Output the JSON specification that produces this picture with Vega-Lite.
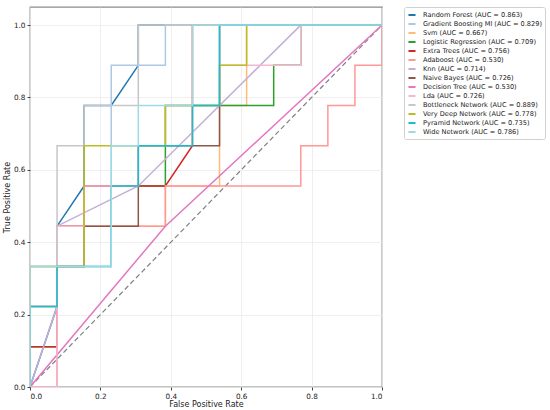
{
  "$schema": "https://vega.github.io/schema/vega-lite/v6.json",
  "width": 352,
  "height": 380,
  "autosize": "none",
  "padding": {"left": 30, "top": 7, "right": 168, "bottom": 23},
  "config": {
    "font": "DejaVu Sans",
    "view": {"stroke": "#8a8a8a", "strokeWidth": 1.3},
    "axis": {
      "domain": false, "grid": true, "gridColor": "#ebebeb", "gridWidth": 0.8,
      "tickColor": "#444", "tickSize": 3, "labelFontSize": 7.3, "labelColor": "#222",
      "titleFontSize": 8, "titleFontWeight": "normal", "titleColor": "#222"
    }
  },
  "data": {"values": [
    {"model": "Random Forest (AUC = 0.863)", "x": 0, "y": 0},
    {"model": "Random Forest (AUC = 0.863)", "x": 0.0769, "y": 0.2222},
    {"model": "Random Forest (AUC = 0.863)", "x": 0.0769, "y": 0.4444},
    {"model": "Random Forest (AUC = 0.863)", "x": 0.1538, "y": 0.5556},
    {"model": "Random Forest (AUC = 0.863)", "x": 0.1538, "y": 0.7778},
    {"model": "Random Forest (AUC = 0.863)", "x": 0.2308, "y": 0.7778},
    {"model": "Random Forest (AUC = 0.863)", "x": 0.3077, "y": 0.8889},
    {"model": "Random Forest (AUC = 0.863)", "x": 0.3077, "y": 1},
    {"model": "Random Forest (AUC = 0.863)", "x": 1, "y": 1},

    {"model": "Gradient Boosting Ml (AUC = 0.829)", "x": 0, "y": 0},
    {"model": "Gradient Boosting Ml (AUC = 0.829)", "x": 0, "y": 0.3333},
    {"model": "Gradient Boosting Ml (AUC = 0.829)", "x": 0.2308, "y": 0.3333},
    {"model": "Gradient Boosting Ml (AUC = 0.829)", "x": 0.2308, "y": 0.8889},
    {"model": "Gradient Boosting Ml (AUC = 0.829)", "x": 0.3846, "y": 0.8889},
    {"model": "Gradient Boosting Ml (AUC = 0.829)", "x": 0.3846, "y": 1},
    {"model": "Gradient Boosting Ml (AUC = 0.829)", "x": 1, "y": 1},

    {"model": "Svm (AUC = 0.667)", "x": 0, "y": 0},
    {"model": "Svm (AUC = 0.667)", "x": 0.0769, "y": 0},
    {"model": "Svm (AUC = 0.667)", "x": 0.0769, "y": 0.4444},
    {"model": "Svm (AUC = 0.667)", "x": 0.3846, "y": 0.4444},
    {"model": "Svm (AUC = 0.667)", "x": 0.3846, "y": 0.5556},
    {"model": "Svm (AUC = 0.667)", "x": 0.5385, "y": 0.5556},
    {"model": "Svm (AUC = 0.667)", "x": 0.5385, "y": 0.7778},
    {"model": "Svm (AUC = 0.667)", "x": 0.6154, "y": 0.7778},
    {"model": "Svm (AUC = 0.667)", "x": 0.6154, "y": 1},
    {"model": "Svm (AUC = 0.667)", "x": 1, "y": 1},

    {"model": "Logistic Regression (AUC = 0.709)", "x": 0, "y": 0},
    {"model": "Logistic Regression (AUC = 0.709)", "x": 0, "y": 0.1111},
    {"model": "Logistic Regression (AUC = 0.709)", "x": 0.0769, "y": 0.1111},
    {"model": "Logistic Regression (AUC = 0.709)", "x": 0.0769, "y": 0.4444},
    {"model": "Logistic Regression (AUC = 0.709)", "x": 0.1538, "y": 0.4444},
    {"model": "Logistic Regression (AUC = 0.709)", "x": 0.1538, "y": 0.5556},
    {"model": "Logistic Regression (AUC = 0.709)", "x": 0.3846, "y": 0.5556},
    {"model": "Logistic Regression (AUC = 0.709)", "x": 0.3846, "y": 0.7778},
    {"model": "Logistic Regression (AUC = 0.709)", "x": 0.6923, "y": 0.7778},
    {"model": "Logistic Regression (AUC = 0.709)", "x": 0.6923, "y": 0.8889},
    {"model": "Logistic Regression (AUC = 0.709)", "x": 0.7692, "y": 0.8889},
    {"model": "Logistic Regression (AUC = 0.709)", "x": 0.7692, "y": 1},
    {"model": "Logistic Regression (AUC = 0.709)", "x": 1, "y": 1},

    {"model": "Extra Trees (AUC = 0.756)", "x": 0, "y": 0},
    {"model": "Extra Trees (AUC = 0.756)", "x": 0, "y": 0.1111},
    {"model": "Extra Trees (AUC = 0.756)", "x": 0.0769, "y": 0.1111},
    {"model": "Extra Trees (AUC = 0.756)", "x": 0.0769, "y": 0.4444},
    {"model": "Extra Trees (AUC = 0.756)", "x": 0.1538, "y": 0.4444},
    {"model": "Extra Trees (AUC = 0.756)", "x": 0.1538, "y": 0.5556},
    {"model": "Extra Trees (AUC = 0.756)", "x": 0.3846, "y": 0.5556},
    {"model": "Extra Trees (AUC = 0.756)", "x": 0.4615, "y": 0.6667},
    {"model": "Extra Trees (AUC = 0.756)", "x": 0.4615, "y": 1},
    {"model": "Extra Trees (AUC = 0.756)", "x": 1, "y": 1},

    {"model": "Adaboost (AUC = 0.530)", "x": 0, "y": 0},
    {"model": "Adaboost (AUC = 0.530)", "x": 0.0769, "y": 0},
    {"model": "Adaboost (AUC = 0.530)", "x": 0.0769, "y": 0.4444},
    {"model": "Adaboost (AUC = 0.530)", "x": 0.3846, "y": 0.4444},
    {"model": "Adaboost (AUC = 0.530)", "x": 0.3846, "y": 0.5556},
    {"model": "Adaboost (AUC = 0.530)", "x": 0.7692, "y": 0.5556},
    {"model": "Adaboost (AUC = 0.530)", "x": 0.7692, "y": 0.6667},
    {"model": "Adaboost (AUC = 0.530)", "x": 0.8462, "y": 0.6667},
    {"model": "Adaboost (AUC = 0.530)", "x": 0.8462, "y": 0.7778},
    {"model": "Adaboost (AUC = 0.530)", "x": 0.9231, "y": 0.7778},
    {"model": "Adaboost (AUC = 0.530)", "x": 0.9231, "y": 0.8889},
    {"model": "Adaboost (AUC = 0.530)", "x": 1, "y": 0.8889},
    {"model": "Adaboost (AUC = 0.530)", "x": 1, "y": 1},

    {"model": "Knn (AUC = 0.714)", "x": 0, "y": 0},
    {"model": "Knn (AUC = 0.714)", "x": 0.0769, "y": 0.2222},
    {"model": "Knn (AUC = 0.714)", "x": 0.0769, "y": 0.4444},
    {"model": "Knn (AUC = 0.714)", "x": 0.3077, "y": 0.5556},
    {"model": "Knn (AUC = 0.714)", "x": 0.7692, "y": 1},
    {"model": "Knn (AUC = 0.714)", "x": 1, "y": 1},

    {"model": "Naive Bayes (AUC = 0.726)", "x": 0, "y": 0},
    {"model": "Naive Bayes (AUC = 0.726)", "x": 0, "y": 0.2222},
    {"model": "Naive Bayes (AUC = 0.726)", "x": 0.0769, "y": 0.2222},
    {"model": "Naive Bayes (AUC = 0.726)", "x": 0.0769, "y": 0.3333},
    {"model": "Naive Bayes (AUC = 0.726)", "x": 0.1538, "y": 0.3333},
    {"model": "Naive Bayes (AUC = 0.726)", "x": 0.1538, "y": 0.4444},
    {"model": "Naive Bayes (AUC = 0.726)", "x": 0.3077, "y": 0.4444},
    {"model": "Naive Bayes (AUC = 0.726)", "x": 0.3077, "y": 0.6667},
    {"model": "Naive Bayes (AUC = 0.726)", "x": 0.5385, "y": 0.6667},
    {"model": "Naive Bayes (AUC = 0.726)", "x": 0.5385, "y": 1},
    {"model": "Naive Bayes (AUC = 0.726)", "x": 1, "y": 1},

    {"model": "Decision Tree (AUC = 0.530)", "x": 0, "y": 0},
    {"model": "Decision Tree (AUC = 0.530)", "x": 0.3846, "y": 0.4444},
    {"model": "Decision Tree (AUC = 0.530)", "x": 1, "y": 1},

    {"model": "Lda (AUC = 0.726)", "x": 0, "y": 0},
    {"model": "Lda (AUC = 0.726)", "x": 0.0769, "y": 0},
    {"model": "Lda (AUC = 0.726)", "x": 0.0769, "y": 0.4444},
    {"model": "Lda (AUC = 0.726)", "x": 0.1538, "y": 0.4444},
    {"model": "Lda (AUC = 0.726)", "x": 0.1538, "y": 0.5556},
    {"model": "Lda (AUC = 0.726)", "x": 0.3077, "y": 0.5556},
    {"model": "Lda (AUC = 0.726)", "x": 0.3077, "y": 0.6667},
    {"model": "Lda (AUC = 0.726)", "x": 0.3846, "y": 0.6667},
    {"model": "Lda (AUC = 0.726)", "x": 0.3846, "y": 0.7778},
    {"model": "Lda (AUC = 0.726)", "x": 0.5385, "y": 0.7778},
    {"model": "Lda (AUC = 0.726)", "x": 0.5385, "y": 0.8889},
    {"model": "Lda (AUC = 0.726)", "x": 0.7692, "y": 0.8889},
    {"model": "Lda (AUC = 0.726)", "x": 0.7692, "y": 1},
    {"model": "Lda (AUC = 0.726)", "x": 1, "y": 1},

    {"model": "Bottleneck Network (AUC = 0.889)", "x": 0, "y": 0},
    {"model": "Bottleneck Network (AUC = 0.889)", "x": 0, "y": 0.3333},
    {"model": "Bottleneck Network (AUC = 0.889)", "x": 0.0769, "y": 0.3333},
    {"model": "Bottleneck Network (AUC = 0.889)", "x": 0.0769, "y": 0.6667},
    {"model": "Bottleneck Network (AUC = 0.889)", "x": 0.1538, "y": 0.6667},
    {"model": "Bottleneck Network (AUC = 0.889)", "x": 0.1538, "y": 0.7778},
    {"model": "Bottleneck Network (AUC = 0.889)", "x": 0.3077, "y": 0.7778},
    {"model": "Bottleneck Network (AUC = 0.889)", "x": 0.3077, "y": 1},
    {"model": "Bottleneck Network (AUC = 0.889)", "x": 1, "y": 1},

    {"model": "Very Deep Network (AUC = 0.778)", "x": 0, "y": 0},
    {"model": "Very Deep Network (AUC = 0.778)", "x": 0, "y": 0.3333},
    {"model": "Very Deep Network (AUC = 0.778)", "x": 0.1538, "y": 0.3333},
    {"model": "Very Deep Network (AUC = 0.778)", "x": 0.1538, "y": 0.6667},
    {"model": "Very Deep Network (AUC = 0.778)", "x": 0.3846, "y": 0.6667},
    {"model": "Very Deep Network (AUC = 0.778)", "x": 0.3846, "y": 0.7778},
    {"model": "Very Deep Network (AUC = 0.778)", "x": 0.5385, "y": 0.7778},
    {"model": "Very Deep Network (AUC = 0.778)", "x": 0.5385, "y": 0.8889},
    {"model": "Very Deep Network (AUC = 0.778)", "x": 0.6154, "y": 0.8889},
    {"model": "Very Deep Network (AUC = 0.778)", "x": 0.6154, "y": 1},
    {"model": "Very Deep Network (AUC = 0.778)", "x": 1, "y": 1},

    {"model": "Pyramid Network (AUC = 0.735)", "x": 0, "y": 0},
    {"model": "Pyramid Network (AUC = 0.735)", "x": 0, "y": 0.2222},
    {"model": "Pyramid Network (AUC = 0.735)", "x": 0.0769, "y": 0.2222},
    {"model": "Pyramid Network (AUC = 0.735)", "x": 0.0769, "y": 0.3333},
    {"model": "Pyramid Network (AUC = 0.735)", "x": 0.2308, "y": 0.3333},
    {"model": "Pyramid Network (AUC = 0.735)", "x": 0.2308, "y": 0.5556},
    {"model": "Pyramid Network (AUC = 0.735)", "x": 0.3077, "y": 0.5556},
    {"model": "Pyramid Network (AUC = 0.735)", "x": 0.3077, "y": 0.6667},
    {"model": "Pyramid Network (AUC = 0.735)", "x": 0.4615, "y": 0.6667},
    {"model": "Pyramid Network (AUC = 0.735)", "x": 0.4615, "y": 0.7778},
    {"model": "Pyramid Network (AUC = 0.735)", "x": 0.5385, "y": 0.7778},
    {"model": "Pyramid Network (AUC = 0.735)", "x": 0.5385, "y": 1},
    {"model": "Pyramid Network (AUC = 0.735)", "x": 1, "y": 1},

    {"model": "Wide Network (AUC = 0.786)", "x": 0, "y": 0},
    {"model": "Wide Network (AUC = 0.786)", "x": 0, "y": 0.3333},
    {"model": "Wide Network (AUC = 0.786)", "x": 0.2308, "y": 0.3333},
    {"model": "Wide Network (AUC = 0.786)", "x": 0.2308, "y": 0.6667},
    {"model": "Wide Network (AUC = 0.786)", "x": 0.3077, "y": 0.6667},
    {"model": "Wide Network (AUC = 0.786)", "x": 0.3077, "y": 0.7778},
    {"model": "Wide Network (AUC = 0.786)", "x": 0.4615, "y": 0.7778},
    {"model": "Wide Network (AUC = 0.786)", "x": 0.4615, "y": 1},
    {"model": "Wide Network (AUC = 0.786)", "x": 1, "y": 1}
  ]},
  "layer": [
    {
      "data": {"values": [{"x": 0, "y": 0}, {"x": 1, "y": 1}]},
      "mark": {"type": "line", "color": "#7f7f7f", "strokeWidth": 1.2, "strokeDash": [5, 3], "clip": true},
      "encoding": {
        "x": {"field": "x", "type": "quantitative"},
        "y": {"field": "y", "type": "quantitative"}
      }
    },
    {
      "mark": {"type": "line", "strokeWidth": 1.5, "clip": true},
      "encoding": {
        "x": {
          "field": "x", "type": "quantitative", "title": "False Positive Rate",
          "scale": {"domain": [0, 1], "nice": false},
          "axis": {"values": [0, 0.2, 0.4, 0.6, 0.8, 1], "format": ".1f", "titlePadding": 1, "labelPadding": 2}
        },
        "y": {
          "field": "y", "type": "quantitative", "title": "True Positive Rate",
          "scale": {"domain": [0, 1.05], "nice": false},
          "axis": {"values": [0, 0.2, 0.4, 0.6, 0.8, 1], "format": ".1f", "titlePadding": 2, "labelPadding": 2}
        },
        "color": {
          "field": "model", "type": "nominal", "sort": null,
          "scale": {
            "domain": [
              "Random Forest (AUC = 0.863)", "Gradient Boosting Ml (AUC = 0.829)", "Svm (AUC = 0.667)",
              "Logistic Regression (AUC = 0.709)", "Extra Trees (AUC = 0.756)", "Adaboost (AUC = 0.530)",
              "Knn (AUC = 0.714)", "Naive Bayes (AUC = 0.726)", "Decision Tree (AUC = 0.530)",
              "Lda (AUC = 0.726)", "Bottleneck Network (AUC = 0.889)", "Very Deep Network (AUC = 0.778)",
              "Pyramid Network (AUC = 0.735)", "Wide Network (AUC = 0.786)"
            ],
            "range": [
              "#1f77b4", "#aec7e8", "#ffbb78", "#2ca02c", "#d62728", "#ff9896", "#c5b0d5",
              "#8c564b", "#e377c2", "#f7b6d2", "#c7c7c7", "#bcbd22", "#17becf", "#9edae5"
            ]
          },
          "legend": {
            "title": null, "orient": "none", "legendX": 374, "legendY": 0,
            "symbolType": "stroke", "symbolStrokeWidth": 2, "symbolSize": 50,
            "labelFontSize": 6.6, "labelColor": "#222", "labelOffset": 6, "labelLimit": 0,
            "rowPadding": -1.2, "padding": 3,
            "strokeColor": "#d0d0d0", "fillColor": "white", "cornerRadius": 2
          }
        },
        "order": {"value": null}
      }
    }
  ]
}
